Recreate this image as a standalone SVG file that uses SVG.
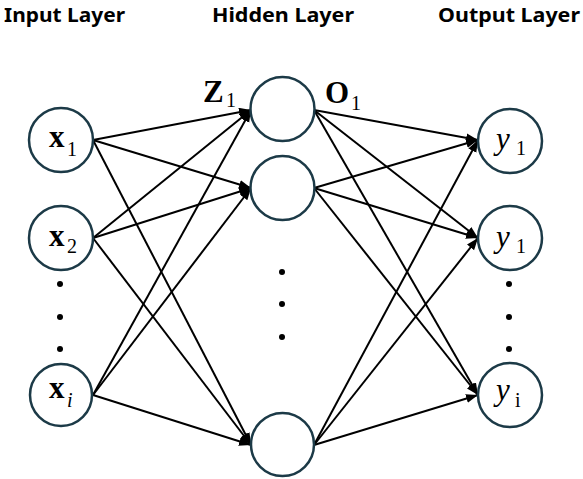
<svg xmlns="http://www.w3.org/2000/svg" width="583" height="479" viewBox="0 0 583 479">
<style>
.title{font-family:"Noto Sans","Open Sans",sans-serif;font-weight:bold;font-size:19px;fill:#000}
.node{fill:#fff;stroke:#1c3a47;stroke-width:2.5}
.big{font-family:"Liberation Serif",serif;font-size:31px;fill:#000}
.b{font-weight:bold}
.it{font-style:italic}
.sub{font-family:"Liberation Serif",serif;font-size:20px;fill:#000}
.dot{fill:#000}
.edge line{stroke:#000;stroke-width:2;marker-end:url(#ah)}
</style>
<defs>
<marker id="ah" markerUnits="userSpaceOnUse" markerWidth="13" markerHeight="10" refX="12" refY="4.5" orient="auto">
<path d="M0,0 L12,4.5 L0,9 z" fill="#000"/>
</marker>
</defs>
<rect width="583" height="479" fill="#fff"/>
<g id="titles">
<text class="title" x="4" y="22" textLength="121" lengthAdjust="spacingAndGlyphs">Input Layer</text>
<text class="title" x="212" y="22" textLength="142" lengthAdjust="spacingAndGlyphs">Hidden Layer</text>
<text class="title" x="438" y="22" textLength="142" lengthAdjust="spacingAndGlyphs">Output Layer</text>
</g>
<g id="connectors" class="edge">
<line x1="93" y1="140" x2="251" y2="110"/>
<line x1="93" y1="140" x2="251" y2="188"/>
<line x1="93" y1="140" x2="251" y2="445"/>
<line x1="93" y1="238" x2="251" y2="110"/>
<line x1="93" y1="238" x2="251" y2="188"/>
<line x1="93" y1="238" x2="251" y2="445"/>
<line x1="93" y1="395" x2="251" y2="110"/>
<line x1="93" y1="395" x2="251" y2="188"/>
<line x1="93" y1="395" x2="251" y2="445"/>
<line x1="314" y1="110" x2="478" y2="140"/>
<line x1="314" y1="110" x2="478" y2="238"/>
<line x1="314" y1="110" x2="478" y2="395"/>
<line x1="314" y1="188" x2="478" y2="140"/>
<line x1="314" y1="188" x2="478" y2="238"/>
<line x1="314" y1="188" x2="478" y2="395"/>
<line x1="314" y1="445" x2="478" y2="140"/>
<line x1="314" y1="445" x2="478" y2="238"/>
<line x1="314" y1="445" x2="478" y2="395"/>
</g>
<g id="x1">
<circle class="node" cx="61" cy="140" r="32"/>
<text class="big b" x="49" y="147">x</text><text class="sub" x="67" y="156">1</text>
</g>
<g id="x2">
<circle class="node" cx="61" cy="238" r="32"/>
<text class="big b" x="49" y="246">x</text><text class="sub" x="67" y="253">2</text>
</g>
<g id="xi">
<circle class="node" cx="61" cy="395" r="31"/>
<text class="big b" x="49" y="398">x</text><text class="sub it" x="67" y="407">i</text>
</g>
<g id="h1">
<circle class="node" cx="282.5" cy="109" r="32"/>
</g>
<g id="h2">
<circle class="node" cx="282.5" cy="188" r="32"/>
</g>
<g id="hn">
<circle class="node" cx="282.5" cy="444.5" r="31.5"/>
</g>
<g id="y1">
<circle class="node" cx="510" cy="141" r="32"/>
<text class="big it" x="496" y="149">y</text><text class="sub" x="516" y="155">1</text>
</g>
<g id="y2">
<circle class="node" cx="510" cy="238" r="32"/>
<text class="big it" x="496" y="247">y</text><text class="sub" x="516" y="253">1</text>
</g>
<g id="yi">
<circle class="node" cx="510" cy="395" r="32"/>
<text class="big it" x="496" y="400">y</text><text class="sub" x="515" y="407">i</text>
</g>
<g id="labels">
<text class="big b" x="203" y="102">Z</text><text class="sub" x="226" y="107">1</text>
<text class="big b" x="325" y="103">O</text><text class="sub" x="351" y="110">1</text>
</g>
<g id="dots">
<circle class="dot" cx="60" cy="284" r="3"/>
<circle class="dot" cx="60" cy="317" r="3"/>
<circle class="dot" cx="60" cy="349" r="3"/>
<circle class="dot" cx="282" cy="272" r="3"/>
<circle class="dot" cx="282" cy="304" r="3"/>
<circle class="dot" cx="282" cy="337" r="3"/>
<circle class="dot" cx="509" cy="284" r="3"/>
<circle class="dot" cx="509" cy="317" r="3"/>
<circle class="dot" cx="509" cy="349" r="3"/>
</g>
</svg>
